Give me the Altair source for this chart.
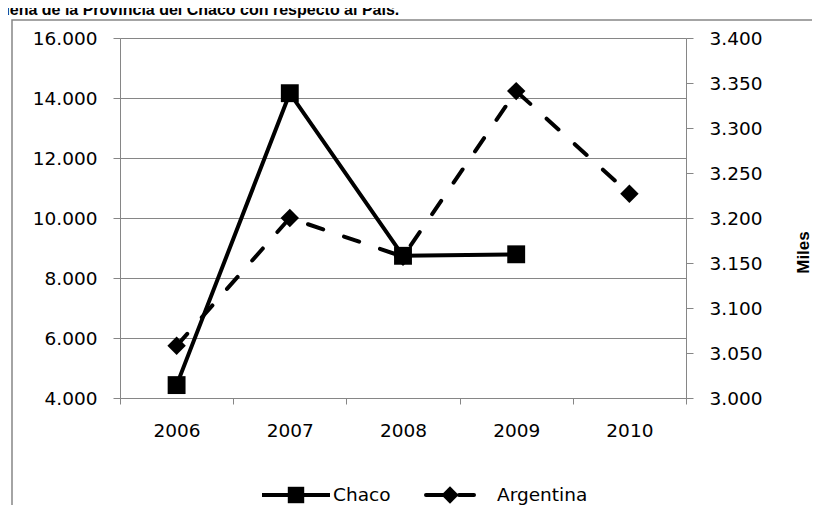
import altair as alt
import pandas as pd

# ---- data ----
years = ["2006", "2007", "2008", "2009", "2010"]
chaco_years = ["2006", "2007", "2008", "2009"]
chaco_values = [4430, 14160, 8740, 8790]
argentina_values = [3058, 3200, 3157, 3341, 3227]
left_ticks = [4000, 6000, 8000, 10000, 12000, 14000, 16000]
right_ticks = [3000, 3050, 3100, 3150, 3200, 3250, 3300, 3350, 3400]
series_names = ["Chaco", "Argentina"]
right_title = "Miles"
title_text = "ueña de la Provincia del Chaco con respecto al País."

GRAY = "#868686"
FONT = "DejaVu Sans"
FS = 18.5

df_chaco = pd.DataFrame({"year": chaco_years, "value": chaco_values})
df_arg = pd.DataFrame({"year": years, "value": argentina_values})
one = pd.DataFrame({"k": [0]})

X = alt.X(
    "year:N",
    sort=years,
    bandPosition=0.5,
    scale=alt.Scale(type="band", domain=years, paddingInner=0, paddingOuter=0),
    axis=alt.Axis(
        title=None, labelAngle=0, tickBand="extent", tickSize=6,
        labelPadding=17, labelFontSize=FS, labelFont=FONT, labelColor="black",
        domainColor=GRAY, tickColor=GRAY, grid=False,
    ),
)

Y_left = alt.Y(
    "value:Q",
    scale=alt.Scale(domain=[4000, 16000], nice=False, zero=False),
    axis=alt.Axis(
        title=None, values=left_ticks, format=",d",
        labelExpr="replace(datum.label, ',', '.')",
        grid=True, gridColor=GRAY, gridWidth=1,
        domainColor=GRAY, tickColor=GRAY, tickSize=7, labelPadding=16,
        labelFontSize=FS, labelFont=FONT, labelColor="black", orient="left",
    ),
)

Y_right = alt.Y(
    "value:Q",
    scale=alt.Scale(domain=[3000, 3400], nice=False, zero=False),
    axis=alt.Axis(
        title=right_title, values=right_ticks, format=",d",
        labelExpr="replace(datum.label, ',', '.')",
        grid=False, domainColor=GRAY, tickColor=GRAY, tickSize=7, labelPadding=16,
        labelFontSize=FS, labelFont=FONT, labelColor="black", orient="right",
        titleAngle=270, titleX=117, titleY=214, titleAlign="center",
        titleBaseline="middle", titleFont="Liberation Sans", titleFontSize=17,
        titleFontWeight="bold", titleColor="black",
    ),
)

chaco_base = alt.Chart(df_chaco).encode(x=X, y=Y_left)
chaco = alt.layer(
    chaco_base.mark_line(color="black", strokeWidth=4),
    chaco_base.mark_point(shape="square", filled=True, size=320, color="black", opacity=1),
)

arg_base = alt.Chart(df_arg).encode(x=X, y=Y_right)
arg = alt.layer(
    arg_base.mark_line(color="black", strokeWidth=4, strokeDash=[16, 22], strokeCap="round"),
    arg_base.mark_point(shape="diamond", filled=True, size=340, color="black", opacity=1),
)

# ---- manual legend (positions relative to plot area) ----
LY = 457
base1 = alt.Chart(one)
legend = alt.layer(
    base1.mark_rule(color="black", strokeWidth=4).encode(
        x=alt.value(142), x2=alt.value(210), y=alt.value(LY)),
    base1.mark_point(shape="square", filled=True, size=270, color="black", opacity=1).encode(
        x=alt.value(176), y=alt.value(LY)),
    base1.mark_text(align="left", baseline="middle", font=FONT, fontSize=FS, color="black").encode(
        x=alt.value(213), y=alt.value(LY), text=alt.value(series_names[0])),
    base1.mark_rule(color="black", strokeWidth=4, strokeDash=[17, 16, 17], strokeCap="round").encode(
        x=alt.value(306), x2=alt.value(354), y=alt.value(LY)),
    base1.mark_point(shape="diamond", filled=True, size=300, color="black", opacity=1).encode(
        x=alt.value(330), y=alt.value(LY)),
    base1.mark_text(align="left", baseline="middle", font=FONT, fontSize=FS, color="black").encode(
        x=alt.value(377), y=alt.value(LY), text=alt.value(series_names[1])),
)

border = base1.mark_rect(fill="transparent", stroke=GRAY, strokeWidth=1.5).encode(
    x=alt.value(-108), x2=alt.value(720), y=alt.value(-18), y2=alt.value(520))

title = base1.mark_text(
    align="left", baseline="alphabetic", fontWeight="bold", fontSize=16,
    font="Liberation Sans", color="black",
).encode(x=alt.value(-120), y=alt.value(-23), text=alt.value(title_text))

chart = (
    alt.layer(border, chaco, arg, legend, title)
    .resolve_scale(y="independent")
    .properties(
        width=566, height=360,
        autosize=alt.AutoSizeParams(type="none"),
        padding={"left": 112, "top": 30, "right": 126, "bottom": 107},
    )
    .configure_view(stroke=None)
    .configure(background="white")
)

chart.save("out.html", embed_options={"renderer": "svg", "actions": False})
